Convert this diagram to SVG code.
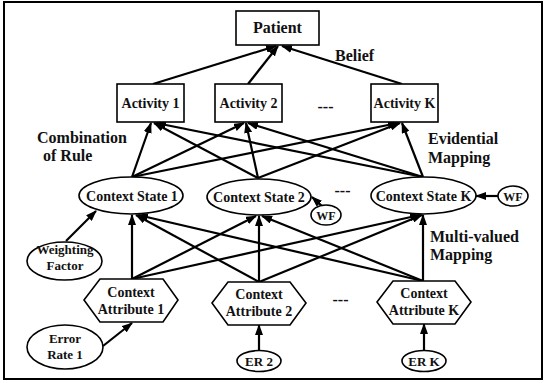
<svg xmlns="http://www.w3.org/2000/svg" width="546" height="383" viewBox="0 0 546 383">
<style>
  .n { fill: #fff; stroke: #000; stroke-width: 1.6; }
  .t { font-family: "Liberation Serif", "Times New Roman", serif; font-weight: bold; fill: #111; text-anchor: middle; }
  .lbl { font-family: "Liberation Serif", "Times New Roman", serif; font-weight: bold; fill: #111; font-size: 16px; }
  .c { stroke: #000; stroke-width: 2.2; fill: none; marker-end: url(#ah); }
</style>
<defs>
  <marker id="ah" markerUnits="userSpaceOnUse" markerWidth="11" markerHeight="8" refX="10" refY="4" orient="auto">
    <path d="M0,0 L11,4 L0,8 z" fill="#000"/>
  </marker>
</defs>
<rect x="0" y="0" width="546" height="383" fill="#fff"/>
<rect x="4" y="2" width="538" height="377" fill="none" stroke="#000" stroke-width="2"/>

<g id="connectors">
  <line class="c" x1="153" y1="84" x2="276" y2="46"/>
  <line class="c" x1="248" y1="84" x2="278" y2="46"/>
  <line class="c" x1="402" y1="84" x2="282" y2="46"/>

  <line class="c" x1="132" y1="177" x2="151" y2="123"/>
  <line class="c" x1="132" y1="177" x2="244" y2="123"/>
  <line class="c" x1="132" y1="177" x2="398" y2="123"/>
  <line class="c" x1="258" y1="178" x2="154" y2="123"/>
  <line class="c" x1="258" y1="178" x2="246" y2="123"/>
  <line class="c" x1="258" y1="178" x2="400" y2="123"/>
  <line class="c" x1="423" y1="177" x2="156" y2="123"/>
  <line class="c" x1="423" y1="177" x2="248" y2="123"/>
  <line class="c" x1="423" y1="177" x2="402" y2="123"/>

  <line class="c" x1="132" y1="279" x2="132" y2="215"/>
  <line class="c" x1="132" y1="279" x2="256" y2="216"/>
  <line class="c" x1="132" y1="279" x2="420" y2="215"/>
  <line class="c" x1="259" y1="282" x2="136" y2="215"/>
  <line class="c" x1="259" y1="282" x2="259" y2="216"/>
  <line class="c" x1="259" y1="282" x2="422" y2="215"/>
  <line class="c" x1="423" y1="281" x2="138" y2="215"/>
  <line class="c" x1="423" y1="281" x2="262" y2="216"/>
  <line class="c" x1="423" y1="281" x2="423" y2="215"/>

  <line class="c" x1="66" y1="241" x2="96" y2="211"/>
  <line class="c" x1="322" y1="206" x2="312" y2="197"/>
  <line class="c" x1="498" y1="196" x2="476" y2="196"/>
  <line class="c" x1="103" y1="346" x2="132" y2="323"/>
  <line class="c" x1="259" y1="350" x2="259" y2="325"/>
  <line class="c" x1="424" y1="350" x2="424" y2="324"/>
</g>

<g id="patient">
  <rect class="n" x="236" y="11" width="83" height="34"/>
  <text class="t" x="277.5" y="33" font-size="16">Patient</text>
</g>
<g id="activity1">
  <rect class="n" x="117" y="84" width="67" height="38"/>
  <text class="t" x="150.5" y="108" font-size="14">Activity 1</text>
</g>
<g id="activity2">
  <rect class="n" x="215" y="84" width="67" height="38"/>
  <text class="t" x="248.5" y="108" font-size="14">Activity 2</text>
</g>
<g id="activityK">
  <rect class="n" x="371" y="84" width="67" height="38"/>
  <text class="t" x="404.5" y="108" font-size="14">Activity K</text>
</g>

<g id="state1">
  <ellipse class="n" cx="131" cy="195.5" rx="52" ry="18.5"/>
  <text class="t" x="132" y="201" font-size="14">Context State 1</text>
</g>
<g id="state2">
  <ellipse class="n" cx="259" cy="197" rx="52" ry="18"/>
  <text class="t" x="259" y="202" font-size="14">Context State 2</text>
</g>
<g id="stateK">
  <ellipse class="n" cx="423.5" cy="195.5" rx="52.5" ry="18.5"/>
  <text class="t" x="423.5" y="201" font-size="14">Context State K</text>
</g>

<g id="attr1">
  <polygon class="n" points="84,300 100,279 163,279 178,300 163,322 100,322"/>
  <text class="t" x="131" y="297" font-size="14">Context</text>
  <text class="t" x="131" y="314" font-size="14">Attribute 1</text>
</g>
<g id="attr2">
  <polygon class="n" points="212,303 228,282 290,282 306,303 290,325 228,325"/>
  <text class="t" x="259" y="299" font-size="14">Context</text>
  <text class="t" x="259" y="316" font-size="14">Attribute 2</text>
</g>
<g id="attrK">
  <polygon class="n" points="377,302 393,281 455,281 471,302 455,324 393,324"/>
  <text class="t" x="424" y="298" font-size="14">Context</text>
  <text class="t" x="424" y="315" font-size="14">Attribute K</text>
</g>

<g id="weighting">
  <ellipse class="n" cx="64.5" cy="261" rx="37.5" ry="19"/>
  <text class="t" x="65" y="254" font-size="13">Weighting</text>
  <text class="t" x="65" y="270" font-size="13">Factor</text>
</g>
<g id="wf2">
  <ellipse class="n" cx="326" cy="215" rx="15" ry="10"/>
  <text class="t" x="326" y="219.5" font-size="12">WF</text>
</g>
<g id="wfK">
  <ellipse class="n" cx="513" cy="196" rx="15" ry="10"/>
  <text class="t" x="513" y="200.5" font-size="12">WF</text>
</g>
<g id="error1">
  <ellipse class="n" cx="65" cy="347" rx="38" ry="22"/>
  <text class="t" x="65" y="343" font-size="13">Error</text>
  <text class="t" x="65" y="359" font-size="13">Rate 1</text>
</g>
<g id="er2">
  <ellipse class="n" cx="259" cy="361" rx="22" ry="10.5"/>
  <text class="t" x="259" y="366" font-size="13">ER 2</text>
</g>
<g id="erK">
  <ellipse class="n" cx="424" cy="361" rx="22" ry="10.5"/>
  <text class="t" x="424" y="366" font-size="13">ER K</text>
</g>

<g id="labels">
  <text class="lbl" x="335" y="61">Belief</text>
  <text class="lbl" x="37" y="143">Combination</text>
  <text class="lbl" x="43" y="161">of Rule</text>
  <text class="lbl" x="428" y="144">Evidential</text>
  <text class="lbl" x="428" y="163">Mapping</text>
  <text class="lbl" x="430" y="242">Multi-valued</text>
  <text class="lbl" x="430" y="260">Mapping</text>
  <text class="t" x="325.5" y="112" font-size="16">---</text>
  <text class="t" x="342.5" y="196" font-size="16">---</text>
  <text class="t" x="340.5" y="305" font-size="16">---</text>
</g>
</svg>
